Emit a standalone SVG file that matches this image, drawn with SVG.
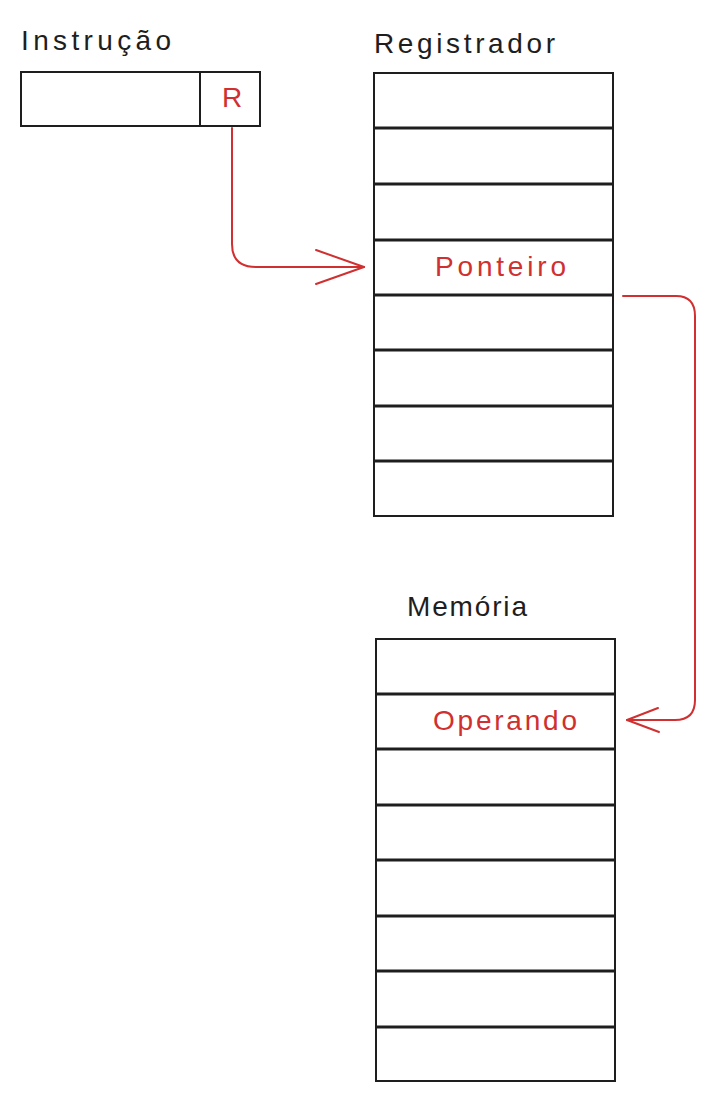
<svg xmlns="http://www.w3.org/2000/svg" width="715" height="1101" viewBox="0 0 715 1101">
<style>
.box{fill:#fff;stroke:#1e1e1e;stroke-width:2}
.row{stroke:#1e1e1e;stroke-width:3}
.title{font-family:"Liberation Sans",Arial,sans-serif;font-size:28px;fill:#1e1e1e}
.red{font-family:"Liberation Sans",Arial,sans-serif;font-size:28px;fill:#d03030}
.conn{fill:none;stroke:#d03030;stroke-width:2;stroke-linecap:round;stroke-linejoin:round}
</style>
<rect width="715" height="1101" fill="#fff"/>
<g id="instrucao">
<text class="title" x="21" y="50" textLength="150" lengthAdjust="spacing">Instrução</text>
<rect class="box" x="21" y="72" width="239" height="54"/>
<line class="row" style="stroke-width:2" x1="200" y1="72" x2="200" y2="126"/>
<text class="red" x="232" y="107" text-anchor="middle">R</text>
</g>
<g id="registrador">
<text class="title" x="374" y="53" textLength="181" lengthAdjust="spacing">Registrador</text>
<rect class="box" x="374" y="73" width="239" height="443"/>
<line class="row" x1="374" y1="128" x2="613" y2="128"/>
<line class="row" x1="374" y1="184" x2="613" y2="184"/>
<line class="row" x1="374" y1="240" x2="613" y2="240"/>
<line class="row" x1="374" y1="295" x2="613" y2="295"/>
<line class="row" x1="374" y1="350" x2="613" y2="350"/>
<line class="row" x1="374" y1="406" x2="613" y2="406"/>
<line class="row" x1="374" y1="461" x2="613" y2="461"/>
<text class="red" x="435" y="276" textLength="131" lengthAdjust="spacing">Ponteiro</text>
</g>
<g id="memoria">
<text class="title" x="407" y="616" textLength="120" lengthAdjust="spacing">Memória</text>
<rect class="box" x="376" y="639" width="239" height="442"/>
<line class="row" x1="376" y1="694" x2="615" y2="694"/>
<line class="row" x1="376" y1="749" x2="615" y2="749"/>
<line class="row" x1="376" y1="805" x2="615" y2="805"/>
<line class="row" x1="376" y1="860" x2="615" y2="860"/>
<line class="row" x1="376" y1="916" x2="615" y2="916"/>
<line class="row" x1="376" y1="971" x2="615" y2="971"/>
<line class="row" x1="376" y1="1027" x2="615" y2="1027"/>
<text class="red" x="433" y="730" textLength="144" lengthAdjust="spacing">Operando</text>
</g>
<g id="connectors">
<path class="conn" d="M232,128 L232,244 Q232,267 256,267 L364,267"/>
<path class="conn" d="M316,250 L364,267 L316,284"/>
<path class="conn" d="M623,296 L676,296 Q695,296 695,316 L695,700 Q695,720 675,720 L627,720"/>
<path class="conn" d="M658,708 L627,720 L659,732"/>
</g>
</svg>
